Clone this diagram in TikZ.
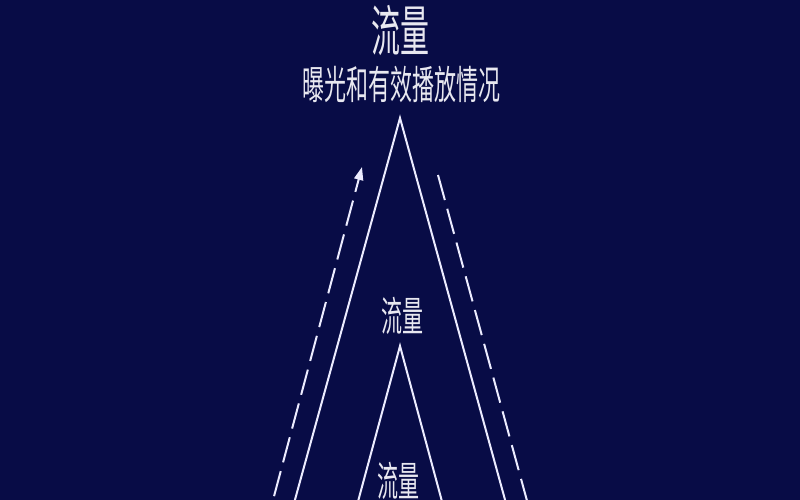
\documentclass[tikz,border=0pt]{standalone}
\usepackage{fontspec}
\newfontfamily\cjk{Noto Sans CJK SC}
\usetikzlibrary{arrows.meta}
\definecolor{bg}{RGB}{8,12,70}
\definecolor{ln}{RGB}{236,236,255}
\definecolor{tx}{RGB}{232,232,240}
\begin{document}
\begin{tikzpicture}[x=1pt,y=-1pt,
  solidline/.style={draw=ln,line width=2pt},
  dashline/.style={draw=ln,line width=2pt,dash pattern=on 26pt off 9pt},
  lbl/.style={text=tx,inner sep=0pt,font=\cjk}]
\fill[bg] (0,0) rectangle (800,500);
\useasboundingbox (0,0) rectangle (800,500);
\clip (0,0) rectangle (800,500);
% texts
\node[lbl] (title) at (400,30) {\fontsize{29pt}{29pt}\selectfont\scalebox{1}[1.9]{流量}};
\node[lbl] (sub) at (401,84) {\fontsize{22pt}{22pt}\selectfont\scalebox{1}[1.8]{曝光和有效播放情况}};
\node[lbl] (mid) at (402,316) {\fontsize{21pt}{21pt}\selectfont\scalebox{1}[1.95]{流量}};
\node[lbl] (low) at (398,481) {\fontsize{21pt}{21pt}\selectfont\scalebox{1}[1.95]{流量}};
% outer triangle
\coordinate (oA) at (400,118);
\coordinate (oL) at (267.4,600);
\coordinate (oR) at (532.6,600);
\draw[solidline,line join=miter] (oL) -- (oA) -- (oR);
% inner triangle
\coordinate (iA) at (400,346);
\coordinate (iL) at (331.4,600);
\coordinate (iR) at (468.6,600);
\draw[solidline,line join=miter] (iL) -- (iA) -- (iR);
% dashed flows
\coordinate (dLs) at (265,530);
\coordinate (dLe) at (362,167);
\draw[dashline,-{Triangle[width=9pt,length=13pt]}] (dLs) -- (dLe);
\coordinate (dRs) at (438,175);
\coordinate (dRe) at (535,530);
\draw[dashline] (dRs) -- (dRe);
\end{tikzpicture}
\end{document}
